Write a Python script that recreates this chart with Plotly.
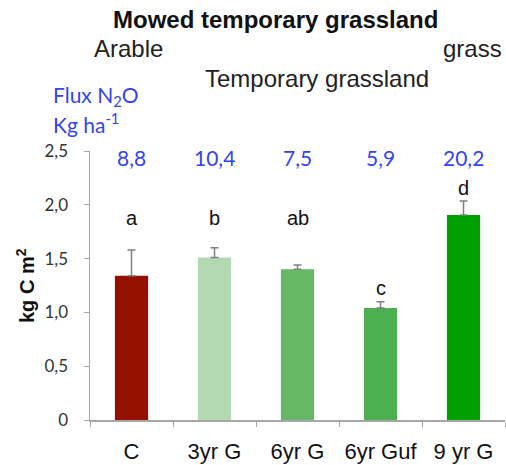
import plotly.graph_objects as go

categories = ["C", "3yr G", "6yr G", "6yr Guf", "9 yr G"]
carbon = [1.34, 1.51, 1.40, 1.04, 1.905]
errors = [0.24, 0.09, 0.04, 0.06, 0.13]
letters = ["a", "b", "ab", "c", "d"]
letter_y = [1.88, 1.88, 1.88, 1.23, 2.16]
n2o_flux = ["8,8", "10,4", "7,5", "5,9", "20,2"]
bar_colors = ["#941100", "#b3d9b3", "#66b866", "#4caf50", "#00a000"]
ytick_vals = [0, 0.5, 1.0, 1.5, 2.0, 2.5]
ytick_text = ["0", "0,5", "1,0", "1,5", "2,0", "2,5"]

blue = "#3344ee"
SANS = "Liberation Sans, Arial, sans-serif"
CAL = "Lato, Carlito, sans-serif"

W, H = 506, 465
L, R, T, B = 90, 1, 151, 45
PW, PH = W - L - R, H - T - B


def px(x):
    return (x - L) / PW


def py(y):
    return 1 - (y - T) / PH


fig = go.Figure()
fig.add_trace(go.Bar(
    x=categories, y=carbon,
    marker=dict(color=bar_colors, line=dict(width=0)),
    width=0.4,
    error_y=dict(type="data", array=errors, symmetric=False, arrayminus=[0] * 5,
                 color="#808080", thickness=1.5, width=4),
    hoverinfo="skip",
))

for c, l, ly, f in zip(categories, letters, letter_y, n2o_flux):
    fig.add_annotation(x=c, y=ly, text=l, showarrow=False, xref="x", yref="y",
                       font=dict(family=SANS, size=20, color="#111111"))
    fig.add_annotation(x=c, y=2.44, text=f, showarrow=False, xref="x", yref="y",
                       font=dict(family=CAL, size=21, color=blue))

fig.add_annotation(x=px(275), y=py(19), xref="paper", yref="paper",
                   text="<b>Mowed temporary grassland</b>", showarrow=False,
                   xanchor="center", yanchor="middle",
                   font=dict(family=SANS, size=24, color="#111111"))
fig.add_annotation(x=px(128), y=py(48), xref="paper", yref="paper",
                   text="Arable", showarrow=False, xanchor="center", yanchor="middle",
                   font=dict(family=SANS, size=24, color="#222222"))
fig.add_annotation(x=px(504), y=py(48), xref="paper", yref="paper",
                   text="grass", showarrow=False, xanchor="right", yanchor="middle",
                   font=dict(family=SANS, size=24, color="#222222"))
fig.add_annotation(x=px(317), y=py(78), xref="paper", yref="paper",
                   text="Temporary grassland", showarrow=False, xanchor="center", yanchor="middle",
                   font=dict(family=SANS, size=24, color="#222222"))
fig.add_annotation(x=px(51), y=py(96), xref="paper", yref="paper",
                   text="Flux N<sub>2</sub>O", showarrow=False, xanchor="left", yanchor="middle",
                   font=dict(family=CAL, size=21, color=blue))
fig.add_annotation(x=px(51), y=py(123), xref="paper", yref="paper",
                   text="Kg ha<sup>-1</sup>", showarrow=False, xanchor="left", yanchor="middle",
                   font=dict(family=CAL, size=21, color=blue))
fig.add_annotation(x=px(25), y=py(286), xref="paper", yref="paper",
                   text="<b>kg C m<sup>2</sup></b>", showarrow=False, textangle=-90,
                   xanchor="center", yanchor="middle",
                   font=dict(family=SANS, size=20, color="#111111"))

fig.update_layout(
    width=W, height=H,
    margin=dict(l=L, r=R, t=T, b=B, autoexpand=False),
    plot_bgcolor="white", paper_bgcolor="white",
    showlegend=False,
    xaxis=dict(showline=True, linecolor="#a6a6a6", linewidth=1.5, automargin=False,
               ticks="outside", tickson="boundaries", tickcolor="#a6a6a6", ticklen=5,
               ticklabelstandoff=11,
               tickfont=dict(family=SANS, size=22, color="#111111"),
               showgrid=False, fixedrange=True),
    yaxis=dict(range=[0, 2.5], tickvals=ytick_vals, ticktext=ytick_text, automargin=False,
               showline=True, linecolor="#a6a6a6", linewidth=1.5,
               ticks="outside", tickcolor="#a6a6a6", ticklen=5,
               ticklabelstandoff=12,
               tickfont=dict(family=CAL, size=17, color="#333333"),
               showgrid=False, zeroline=False, fixedrange=True),
)

# remove the browser's default page margin so the figure fills the window exactly
fig.write_html("out.html",
               config={"displayModeBar": False, "staticPlot": True},
               post_script="document.body.style.margin='0';document.body.style.overflow='hidden';")
